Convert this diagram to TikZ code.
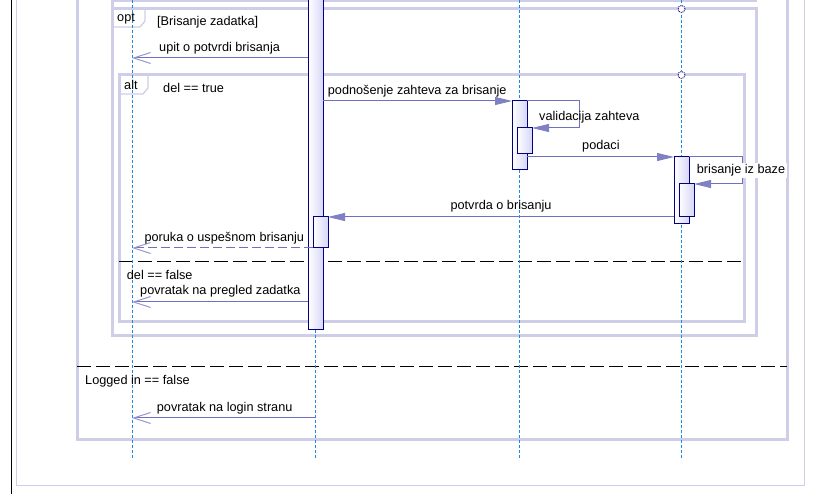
\documentclass[tikz,border=0pt]{standalone}
\usepackage{fontspec}
\setmainfont{Liberation Sans}
\usetikzlibrary{arrows.meta}
\definecolor{frm}{RGB}{206,206,232}
\definecolor{life}{RGB}{30,136,229}
\definecolor{msg}{RGB}{112,112,192}
\definecolor{tipc}{RGB}{128,128,196}
\definecolor{barbc}{RGB}{150,150,210}
\definecolor{navyb}{RGB}{0,0,128}
\definecolor{barfill}{RGB}{214,214,248}
\begin{document}
\begin{tikzpicture}[x=1pt,y=-1pt,
  every node/.style={font=\fontsize{12.7}{15}\selectfont, inner sep=0pt},
  frame/.style={draw=frm, line width=3pt},
  thinframe/.style={draw=frm, line width=1pt},
  tagbox/.style={draw=frm, line width=1.3pt},
  lifeline/.style={draw=life, line width=1pt, dash pattern=on 3pt off 2pt},
  actbar/.style={draw=navyb, line width=1pt, left color=white, right color=barfill, minimum width=15pt},
  call/.style={draw=msg, line width=1pt, -{Triangle[length=17pt,width=8pt,color=tipc]}},
  reply/.style={draw=msg, line width=1pt, -{Straight Barb[length=17pt,width=11pt,color=barbc,line width=1pt]}},
  replydash/.style={reply, dash pattern=on 9pt off 4pt},
  divider/.style={draw=black, line width=1pt, dash pattern=on 14pt off 5pt},
  gate/.style={circle, draw=navyb, densely dotted, fill=white, minimum size=7pt, line width=0.9pt},
  lbl/.style={anchor=base west},
]
\useasboundingbox (0,0) rectangle (815,494);
% left black line and outer thin frame
\draw[black, line width=1.3pt] (11.5,-5) -- (11.5,500);
\draw[thinframe] (16,-10) rectangle (804,486);
% big alt frame (Logged in)
\draw[frame] (77,-10) rectangle (787,440);
\draw[divider] (77,367) -- (787,367);
% previous fragment bottom
\draw[frm, line width=2.5pt] (111,0.5) -- (757,0.5);
\draw[frm, line width=3pt] (112,0) -- (112,9);
% opt frame
\draw[frame] (112,9) rectangle (756,336);
\draw[tagbox] (112,9) -- (145,9) -- (145,21) -- (140,27) -- (112,27);
% alt frame
\draw[frame] (119,75) rectangle (744,322);
\draw[tagbox] (119,75) -- (148,75) -- (148,88) -- (143,94) -- (119,94);
\draw[divider] (119,262) -- (744,262);
% lifelines
\coordinate (l1top) at (132,-5);  \coordinate (l1bot) at (132,460);
\coordinate (l3top) at (519.5,-5); \coordinate (l3bot) at (519.5,460);
\coordinate (l4top) at (681.5,-5); \coordinate (l4bot) at (681.5,460);
\coordinate (l2bot) at (315.75,460);
\draw[lifeline] (l1top) -- (l1bot);
\draw[lifeline] (l3top) -- (l3bot);
\draw[lifeline] (l4top) -- (l4bot);
\node[gate] (g1) at (681.5,9) {};
\node[gate] (g2) at (681.5,75) {};
% fragment texts
\node[lbl] (guardLogged) at (85,385) {Logged in == false};
\node[lbl] (optTag) at (117,22) {opt};
\node[lbl] (optGuard) at (157,26) {[Brisanje zadatka]};
\node[lbl] (altTag) at (124,90) {alt};
\node[lbl] (altGuard1) at (163,92.5) {del == true};
\node[lbl] (altGuard2) at (126.7,280) {del == false};
% activation bars
\node[actbar, minimum height=340pt] (b2) at (315.75,160) {};
\draw[lifeline] (b2.south) -- (l2bot);
\node[actbar, minimum height=31pt] (b2n) at (320.5,232.5) {};
\node[actbar, minimum height=69pt] (b3) at (519.5,135.5) {};
\node[actbar, minimum height=26pt] (b3n) at (524.5,141) {};
\node[actbar, minimum height=67pt] (b4) at (681.5,190.5) {};
\node[actbar, minimum height=33pt] (b4n) at (686.5,200.5) {};
% message endpoints
\coordinate (m1s) at (308.25,58);  \coordinate (m1e) at (132,58);
\coordinate (m2s) at (323.25,101); \coordinate (m2e) at (512,101);
\coordinate (m3a) at (527,101); \coordinate (m3b) at (579,101); \coordinate (m3c) at (579,128); \coordinate (m3e) at (532,128);
\coordinate (m4s) at (527,157); \coordinate (m4e) at (674,157);
\coordinate (m5a) at (689,157); \coordinate (m5b) at (742,157); \coordinate (m5c) at (742,184); \coordinate (m5e) at (694,184);
\coordinate (m6s) at (674,217); \coordinate (m6e) at (328,217);
\coordinate (m7s) at (313,248); \coordinate (m7e) at (132,248);
\coordinate (m8s) at (308.25,302); \coordinate (m8e) at (132,302);
\coordinate (m9s) at (315.75,418); \coordinate (m9e) at (132,418);
% messages
\draw[reply] (m1s) -- (m1e);
\node[lbl] (t1) at (159,51.7) {upit o potvrdi brisanja};
\draw[call] (m2s) -- (m2e);
\node[lbl] (t2) at (327.7,94.3) {podnošenje zahteva za brisanje};
\draw[call] (m3a) -- (m3b) -- (m3c) -- (m3e);
\node[lbl] (t3) at (539,120.7) {validacija zahteva};
\draw[call] (m4s) -- (m4e);
\node[lbl] (t4) at (582,150) {podaci};
\draw[call] (m5a) -- (m5b) -- (m5c) -- (m5e);
\draw[call] (m6s) -- (m6e);
\node[anchor=base] (t6) at (501,210) {potvrda o brisanju};
\draw[replydash] (m7s) -- (m7e);
\node[lbl] (t7) at (144.3,241.7) {poruka o uspešnom brisanju};
\draw[reply] (m8s) -- (m8e);
\node[lbl] (t8) at (140,295) {povratak na pregled zadatka};
\draw[reply] (m9s) -- (m9e);
\node[lbl] (t9) at (156.7,411.7) {povratak na login stranu};
\node[lbl, fill=white, inner xsep=2pt, inner ysep=1.5pt] (t5) at (694.7,174) {brisanje iz baze};
\end{tikzpicture}
\end{document}
